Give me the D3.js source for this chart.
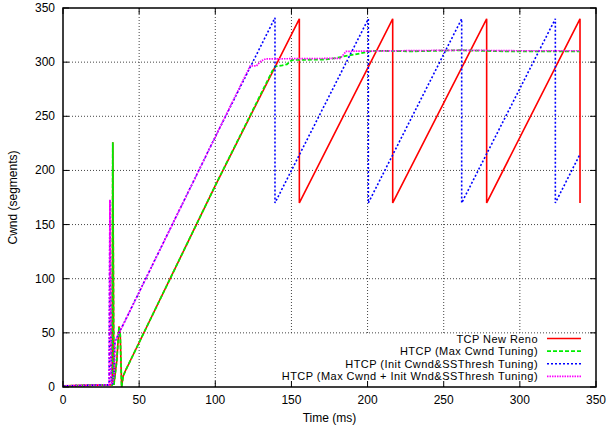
<!DOCTYPE html>
<html>
<head>
<meta charset="utf-8">
<script src="https://cdn.jsdelivr.net/npm/d3@7"></script>
<style>
  html, body { margin: 0; padding: 0; background: #fff; }
  svg { display: block; font-family: "Liberation Sans", Arial, Helvetica, sans-serif; }
</style>
</head>
<body>
<svg id="chart" width="607" height="425"></svg>
<script>
// ---- data (time in ms, cwnd in segments) ----
const xTicks = [0, 50, 100, 150, 200, 250, 300, 350];
const yTicks = [0, 50, 100, 150, 200, 250, 300, 350];
const seriesNames = [
  "TCP New Reno",
  "HTCP (Max Cwnd Tuning)",
  "HTCP (Init Cwnd&SSThresh Tuning)",
  "HTCP (Max Cwnd + Init Wnd&SSThresh Tuning)"
];
const renoData = [[0,1],[30,2],[32.3,2],[32.7,226],[33.4,2],[35.3,24],[36.8,56],[37.6,48],[38.5,0],[39.5,10],[41,15],
  [100,186],[155.2,340],[155.2,170],[216.5,340],[216.5,170],[278.2,340],[278.2,170],[339.5,340],[339.5,170]];
const maxCwndData = [[0,1],[30,2],[32.3,2],[32.7,226],[33.4,2],[35.3,24],[36.8,56],[37.6,48],[38.5,0],[39.5,10],[41,15],
  [100,186],[137.5,292],[139.5,296],[144,297],[147,298],[149.5,301],[151,302],[173,302.5],[180,304],[187,306],[195,308],
  [203,310.5],[230,310],[260,311],[290,310],[339.5,310]];
const initCwndData = [[0,1],[29.8,2],[30.3,2],[30.8,173],[31.6,3],[32.5,3],[33.6,12],[34.1,42],[100,231],[139.2,341],
  [139.2,170],[200.5,340],[200.5,170],[261.8,340],[261.8,170],[323.3,340],[323.3,170],[339.5,215]];
const bothData = [[0,1],[29.8,2],[30.3,2],[30.8,173],[31.6,3],[32.5,3],[33.6,12],[34.1,42],[100,231],[122,294],
  [123,296.5],[127,296.5],[130,301],[133,303],[182,303.5],[186,310],[220,310.5],[260,311],[300,310.5],[339.5,310.5]];
const seriesColors = ["#ff0000", "#00ee00", "#0000ff", "#ff00ff"];

// ---- layout ----
const svg = d3.select("#chart");
const M = { left: 63, right: 596, top: 8, bottom: 387 };
const x = d3.scaleLinear().domain([0, 350]).range([M.left, M.right]);
const y = d3.scaleLinear().domain([0, 350]).range([M.bottom, M.top]);
const fontSize = 12;

// grid
const grid = svg.append("g");
grid.selectAll("line.gx").data(xTicks.slice(1, -1)).enter().append("line")
  .attr("x1", d => x(d)).attr("x2", d => x(d)).attr("y1", M.top).attr("y2", M.bottom)
  .attr("stroke", "#444").attr("stroke-width", 1).attr("stroke-dasharray", "1,2");
grid.selectAll("line.gy").data(yTicks.slice(1, -1)).enter().append("line")
  .attr("x1", M.left).attr("x2", M.right).attr("y1", d => y(d)).attr("y2", d => y(d))
  .attr("stroke", "#444").attr("stroke-width", 1).attr("stroke-dasharray", "1,2");

// legend geometry
const legTextRight = 538, legSampleX1 = 547, legSampleX2 = 581;
const legRowY = [338.5, 351.1, 363.7, 376.3];
const legFont = 11;
// blank out grid under key (as gnuplot does)
const keyLeft = 279, keyTop = 335;
svg.append("rect").attr("x", keyLeft).attr("y", keyTop)
  .attr("width", M.right - keyLeft - 1).attr("height", M.bottom - keyTop - 1).attr("fill", "#fff");

// series
const line = d3.line().x(d => x(d[0])).y(d => y(d[1]));
const allSeries = [renoData, maxCwndData, initCwndData, bothData];
const dashes = [null, "4,2", "2,2", "1.5,1"];
const widths = [1.6, 1.8, 1.6, 1.7];
allSeries.forEach((data, i) => {
  svg.append("path").datum(data).attr("d", line)
    .attr("fill", "none").attr("stroke", seriesColors[i])
    .attr("stroke-width", widths[i])
    .attr("stroke-dasharray", dashes[i])
    .attr("stroke-linejoin", "miter");
});

// border
svg.append("rect").attr("x", M.left).attr("y", M.top)
  .attr("width", M.right - M.left).attr("height", M.bottom - M.top)
  .attr("fill", "none").attr("stroke", "#000").attr("stroke-width", 1.5);

// ticks (inward, mirrored)
const tl = 6;
const ticks = svg.append("g").attr("stroke", "#000").attr("stroke-width", 1);
xTicks.forEach(t => {
  ticks.append("line").attr("x1", x(t)).attr("x2", x(t)).attr("y1", M.bottom).attr("y2", M.bottom - tl);
  ticks.append("line").attr("x1", x(t)).attr("x2", x(t)).attr("y1", M.top).attr("y2", M.top + tl);
});
yTicks.forEach(t => {
  ticks.append("line").attr("x1", M.left).attr("x2", M.left + tl).attr("y1", y(t)).attr("y2", y(t));
  ticks.append("line").attr("x1", M.right).attr("x2", M.right - tl).attr("y1", y(t)).attr("y2", y(t));
});

// tick labels
svg.append("g").selectAll("text").data(xTicks).enter().append("text")
  .attr("x", d => x(d)).attr("y", M.bottom + 17)
  .attr("text-anchor", "middle").attr("font-size", fontSize).attr("fill", "#000")
  .text(d => d);
svg.append("g").selectAll("text").data(yTicks).enter().append("text")
  .attr("x", M.left - 8).attr("y", d => y(d) + 4)
  .attr("text-anchor", "end").attr("font-size", fontSize).attr("fill", "#000")
  .text(d => d);

// axis titles
svg.append("text").attr("x", (M.left + M.right) / 2).attr("y", 422)
  .attr("text-anchor", "middle").attr("font-size", fontSize).text("Time (ms)");
svg.append("text").attr("transform", `translate(17, ${(M.top + M.bottom) / 2}) rotate(-90)`)
  .attr("text-anchor", "middle").attr("font-size", fontSize).text("Cwnd (segments)");

// legend
seriesNames.forEach((name, i) => {
  svg.append("text").attr("x", legTextRight).attr("y", legRowY[i] + 4)
    .attr("text-anchor", "end").attr("font-size", legFont)
    .attr("letter-spacing", "0.45px").text(name);
  svg.append("line").attr("x1", legSampleX1).attr("x2", legSampleX2)
    .attr("y1", legRowY[i]).attr("y2", legRowY[i])
    .attr("stroke", seriesColors[i]).attr("stroke-width", widths[i])
    .attr("stroke-dasharray", dashes[i]);
});
</script>
</body>
</html>
